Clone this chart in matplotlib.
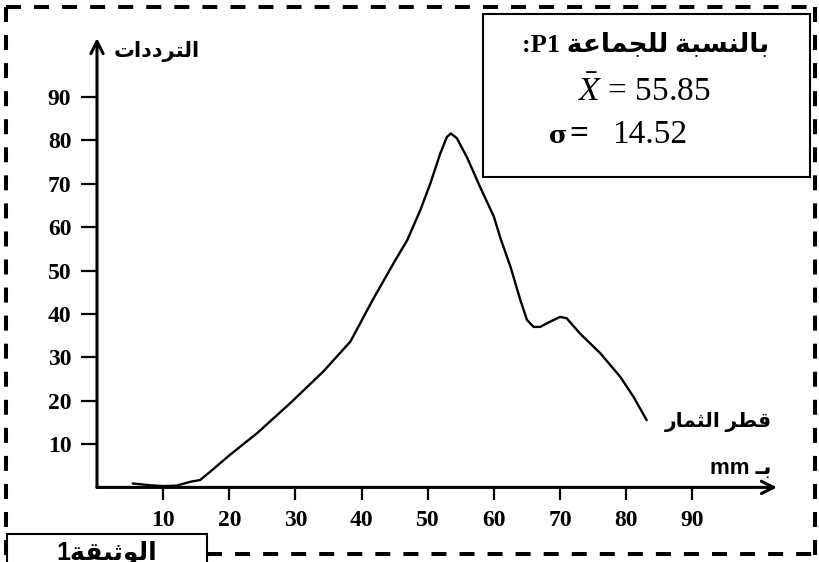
import numpy as np
import matplotlib.pyplot as plt
from matplotlib.patches import Rectangle
from matplotlib.lines import Line2D

plt.rcParams['mathtext.fontset'] = 'stix'
plt.rcParams['lines.scale_dashes'] = False

# values (diameter in mm, frequency)
diam = [5.4, 8.0, 10.0, 12.0, 14.1, 15.6, 17.1, 20.1, 24.2, 29.2,
        34.2, 38.3, 41.6, 44.8, 46.9, 48.9, 50.4, 51.9, 52.9, 53.5,
        54.4, 55.9, 57.9, 60.0, 61.0, 62.5, 64.0, 65.0, 66.0, 67.0,
        68.5, 70.0, 71.0, 73.0, 76.1, 79.1, 81.1, 83.1]
freq = [0.9, 0.5, 0.3, 0.4, 1.3, 1.7, 3.6, 7.5, 12.5, 19.4,
        26.7, 33.6, 43.0, 51.6, 57.0, 64.0, 70.1, 77.0, 80.8, 81.6,
        80.5, 76.2, 69.3, 62.4, 57.4, 50.9, 43.2, 38.6, 37.0, 37.0,
        38.2, 39.3, 39.0, 35.5, 30.9, 25.5, 20.9, 15.5]
xticks = [10, 20, 30, 40, 50, 60, 70, 80, 90]
yticks = [10, 20, 30, 40, 50, 60, 70, 80, 90]
mean_txt = '55.85'
std_txt = '14.52'

# minimal arabic shaping (presentation forms) + visual order
FORMS = {
    'ا': ('\ufe8d', '\ufe8e', None, None),
    'ب': ('\ufe8f', '\ufe90', '\ufe91', '\ufe92'),
    'ة': ('\ufe93', '\ufe94', None, None),
    'ت': ('\ufe95', '\ufe96', '\ufe97', '\ufe98'),
    'ث': ('\ufe99', '\ufe9a', '\ufe9b', '\ufe9c'),
    'ج': ('\ufe9d', '\ufe9e', '\ufe9f', '\ufea0'),
    'د': ('\ufea9', '\ufeaa', None, None),
    'ر': ('\ufead', '\ufeae', None, None),
    'س': ('\ufeb1', '\ufeb2', '\ufeb3', '\ufeb4'),
    'ط': ('\ufec1', '\ufec2', '\ufec3', '\ufec4'),
    'ع': ('\ufec9', '\ufeca', '\ufecb', '\ufecc'),
    'ق': ('\ufed5', '\ufed6', '\ufed7', '\ufed8'),
    'ل': ('\ufedd', '\ufede', '\ufedf', '\ufee0'),
    'م': ('\ufee1', '\ufee2', '\ufee3', '\ufee4'),
    'ن': ('\ufee5', '\ufee6', '\ufee7', '\ufee8'),
    'و': ('\ufeed', '\ufeee', None, None),
    'ي': ('\ufef1', '\ufef2', '\ufef3', '\ufef4'),
    'ـ': ('ـ', 'ـ', 'ـ', 'ـ'),
}


def ar(s):
    out = []
    for i, c in enumerate(s):
        if c not in FORMS:
            out.append(c)
            continue
        prev = s[i-1] if i > 0 else ''
        nxt = s[i+1] if i + 1 < len(s) else ''
        jp = prev in FORMS and FORMS[prev][2] is not None
        jn = FORMS[c][2] is not None and nxt in FORMS
        iso, fin, ini, med = FORMS[c]
        if jp and jn:
            out.append(med)
        elif jp:
            out.append(fin)
        elif jn:
            out.append(ini)
        else:
            out.append(iso)
    return ''.join(reversed(out))


W, H = 819, 562
fig = plt.figure(figsize=(W/100, H/100), dpi=100)


def fx(x):
    return x / W


def fy(y):
    return 1 - y / H


ax = fig.add_axes([fx(97), fy(487.4), (777-97)/W, (487.4-38)/H])
ax.plot(diam, freq, color='black', lw=1.7, solid_joinstyle='round', solid_capstyle='round')
ax.set_xlim(0, 102.8)
ax.set_ylim(0, 103.6)
for s in ax.spines.values():
    s.set_visible(False)
ax.set_xticks(xticks)
ax.set_yticks(yticks)
serif = {'family': 'Liberation Serif', 'weight': 'bold', 'size': 17}
ax.set_xticklabels([str(v) for v in xticks], fontdict=serif)
ax.set_yticklabels([str(v) for v in yticks], fontdict=serif)
ax.tick_params(axis='x', direction='out', length=9.5, width=1.6, pad=7)
ax.tick_params(axis='y', direction='out', length=11.5, width=1.6, pad=7)
arrow = dict(arrowstyle='->', lw=2.2, color='black', mutation_scale=22, shrinkA=0, shrinkB=0)
ax.annotate('', xy=(1, 0), xytext=(0, 0), xycoords='axes fraction', arrowprops=arrow, annotation_clip=False)
ax.annotate('', xy=(0, 1), xytext=(0, 0), xycoords='axes fraction', arrowprops=arrow, annotation_clip=False)

arfam = ['Liberation Sans', 'DejaVu Sans']
fig.text(fx(157), fy(52), ar('الترددات'), family=arfam, weight='bold', size=15, ha='center', va='center')
fig.text(fx(718), fy(422), ar('قطر الثمار'), family=arfam, weight='bold', size=14.5, ha='center', va='center')
fig.text(fx(771), fy(468), 'mm ' + ar('بـ'), family=arfam, weight='bold', size=16, ha='right', va='center')

# stats box
fig.patches.append(Rectangle((fx(483), fy(177)), (810-483)/W, (177-14)/H, transform=fig.transFigure,
                             fill=False, lw=1.5, ec='black'))
fig.text(fx(646), fy(51), ':P1 ' + ar('بالنسبة للجماعة'), family=['Liberation Serif', 'DejaVu Sans'],
         weight='bold', size=19, ha='center', va='baseline')
fig.text(fx(644), fy(101), r'$\bar{X}$ = ' + mean_txt, family='Liberation Serif', size=24,
         ha='center', va='baseline')
fig.text(fx(549), fy(143), 'σ', family='DejaVu Serif', weight='bold', size=18,
         ha='left', va='baseline')
fig.text(fx(569), fy(143), '=', family='Liberation Serif', weight='bold', size=24,
         ha='left', va='baseline')
fig.text(fx(612), fy(143), std_txt, family='Liberation Serif', size=24, ha='left', va='baseline')

# dashed frame
dash = (0, (10.8, 9.4))
for xs, ys in [([6, 815], [7, 7]), ([6, 6], [7, 562]), ([815, 815], [7, 555]), ([207, 815], [554, 554])]:
    fig.lines.append(Line2D([fx(v) for v in xs], [fy(v) for v in ys], transform=fig.transFigure,
                            color='black', lw=2.9, linestyle=dash))

# document label box (cut at the bottom, as in the source)
fig.patches.append(Rectangle((fx(7), fy(575)), 200/W, (575-534)/H, transform=fig.transFigure,
                             fc='white', ec='black', lw=1.5, zorder=5))
fig.text(fx(107), fy(541), '1' + ar('الوثيقة'), family=arfam, weight='bold', size=18,
         ha='center', va='top', zorder=6)

fig.savefig('out.png', dpi=100)
